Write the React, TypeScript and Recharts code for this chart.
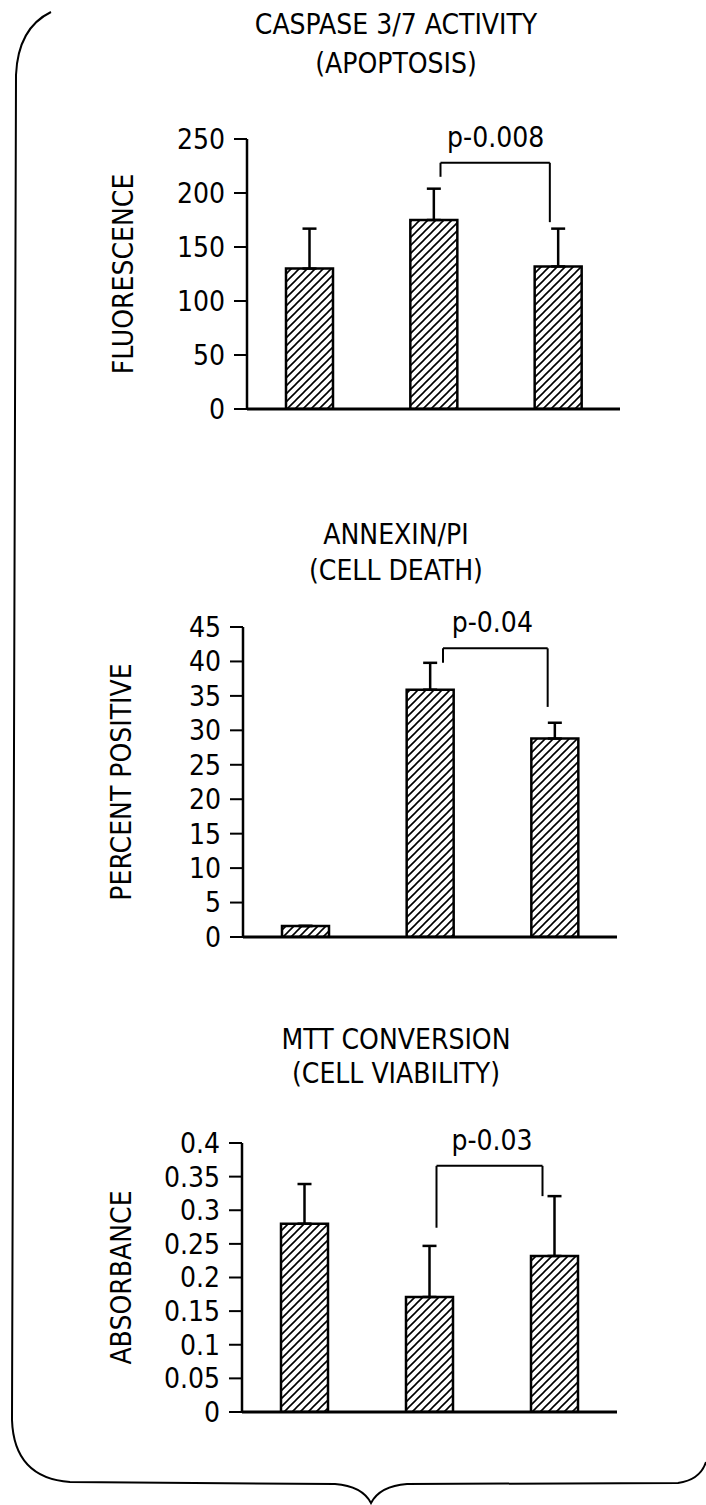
import { BarChart, Bar, XAxis, YAxis, ErrorBar, ReferenceLine } from "recharts";

const FONT = "'Liberation Sans Narrow', 'DejaVu Sans Condensed', 'Liberation Sans', sans-serif";

const groups = ["Group 1", "Group 2", "Group 3"];

// caspase 3/7 activity (fluorescence)
const caspaseValues = [130, 175, 132];
const caspaseErrors = [37, 29, 35];
const caspaseTicks = [0, 50, 100, 150, 200, 250];

// annexin/PI (percent positive)
const annexinValues = [1.6, 35.9, 28.8];
const annexinErrors = [0, 3.9, 2.3];
const annexinTicks = [0, 5, 10, 15, 20, 25, 30, 35, 40, 45];

// MTT conversion (absorbance)
const mttValues = [0.28, 0.171, 0.232];
const mttErrors = [0.059, 0.076, 0.089];
const mttTicks = [0, 0.05, 0.1, 0.15, 0.2, 0.25, 0.3, 0.35, 0.4];

// significance brackets between group 2 and group 3, y in data units
const caspaseBracket = { from: "Group 2", to: "Group 3", leftEnd: 215, top: 228, rightEnd: 173, p: "p-0.008" };
const annexinBracket = { from: "Group 2", to: "Group 3", leftEnd: 39.8, top: 41.9, rightEnd: 33.4, p: "p-0.04" };
const mttBracket = { from: "Group 2", to: "Group 3", leftEnd: 0.274, top: 0.366, rightEnd: 0.321, p: "p-0.03" };

type Bracket = typeof caspaseBracket;

// bracket leg line, nudged sideways off the bar centre
const leg = (dx1: number, dx2: number) => (props: any) =>
  (
    <line
      x1={props.x1 + dx1}
      y1={props.y1}
      x2={props.x2 + dx2}
      y2={props.y2}
      stroke="#000"
      strokeWidth={2}
    />
  );

interface PanelProps {
  id: string;
  title: string[];
  titleTop: number;
  titleLine: number;
  yLabel: string;
  values: number[];
  errors: number[];
  ticks: number[];
  bracket: Bracket;
  shiftL: number;
  shiftR: number;
  top: number;
  height: number;
  marginTop: number;
  marginBottom: number;
  axisX: number;
  plotRight: number;
}

const Panel = (p: PanelProps) => {
  const data = groups.map((name, i) => ({ name, value: p.values[i], err: [0, p.errors[i]] }));
  const max = p.ticks[p.ticks.length - 1];
  const b = p.bracket;
  return (
    <>
      <div
        style={{
          position: "absolute",
          left: 0,
          top: p.titleTop,
          width: 792,
          textAlign: "center",
          fontSize: 28,
          lineHeight: p.titleLine + "px",
          fontFamily: FONT,
          color: "#000",
        }}
      >
        {p.title.map((t) => (
          <div key={t}>{t}</div>
        ))}
      </div>
      <div style={{ position: "absolute", left: 0, top: p.top }}>
        <BarChart
          width={706}
          height={p.height}
          data={data}
          margin={{ top: p.marginTop, bottom: p.marginBottom, left: 0, right: 706 - p.plotRight }}
        >
          <defs>
            <pattern id={p.id} patternUnits="userSpaceOnUse" width={8} height={8}>
              <path d="M-1,1 L1,-1 M0,8 L8,0 M7,9 L9,7" stroke="#000" strokeWidth={1.6} />
            </pattern>
          </defs>
          <XAxis
            dataKey="name"
            height={1}
            tick={false}
            tickLine={false}
            axisLine={{ stroke: "#000", strokeWidth: 3 }}
          />
          <YAxis
            width={p.axisX}
            domain={[0, max]}
            ticks={p.ticks}
            allowDataOverflow
            interval={0}
            tickSize={13}
            tickMargin={9}
            axisLine={{ stroke: "#000", strokeWidth: 2.5 }}
            tickLine={{ stroke: "#000", strokeWidth: 2 }}
            tick={{ fill: "#000", fontSize: 28, fontFamily: FONT }}
            label={{
              value: p.yLabel,
              angle: -90,
              position: "center",
              fill: "#000",
              fontSize: 28,
              fontFamily: FONT,
            }}
          />
          <Bar
            dataKey="value"
            barSize={47}
            fill={`url(#${p.id})`}
            stroke="#000"
            strokeWidth={2.5}
            isAnimationActive={false}
          >
            <ErrorBar dataKey="err" width={7} stroke="#000" strokeWidth={2.5} />
          </Bar>
          <ReferenceLine
            ifOverflow="visible"
            segment={[
              { x: b.from, y: b.leftEnd },
              { x: b.from, y: b.top },
            ]}
            shape={leg(p.shiftL, p.shiftL)}
          />
          <ReferenceLine
            ifOverflow="visible"
            segment={[
              { x: b.from, y: b.top },
              { x: b.to, y: b.top },
            ]}
            shape={leg(p.shiftL, p.shiftR)}
            label={{ value: b.p, position: "top", offset: 16, fill: "#000", fontSize: 28, fontFamily: FONT }}
          />
          <ReferenceLine
            ifOverflow="visible"
            segment={[
              { x: b.to, y: b.top },
              { x: b.to, y: b.rightEnd },
            ]}
            shape={leg(p.shiftR, p.shiftR)}
          />
        </BarChart>
      </div>
    </>
  );
};

const Brace = () => (
  <svg
    width={706}
    height={1505}
    style={{ position: "absolute", left: 0, top: 0, pointerEvents: "none" }}
  >
    <path
      d="M51,12 Q18,28 16,75 L12,1420 Q14,1478 70,1482 L335,1484 Q362,1486 371,1503 Q380,1486 407,1484 L678,1483 Q700,1480 706,1462"
      fill="none"
      stroke="#000"
      strokeWidth={2}
    />
  </svg>
);

export default function App() {
  return (
    <div
      style={{
        position: "absolute",
        left: 0,
        top: 0,
        width: 706,
        height: 1505,
        background: "#fff",
        overflow: "hidden",
      }}
    >
      <Panel
        id="hatchCaspase"
        title={["CASPASE 3/7 ACTIVITY", "(APOPTOSIS)"]}
        titleTop={5}
        titleLine={39}
        yLabel="FLUORESCENCE"
        values={caspaseValues}
        errors={caspaseErrors}
        ticks={caspaseTicks}
        bracket={caspaseBracket}
        shiftL={7}
        shiftR={-8}
        top={0}
        height={440}
        marginTop={139}
        marginBottom={30}
        axisX={247}
        plotRight={620}
      />
      <Panel
        id="hatchAnnexin"
        title={["ANNEXIN/PI", "(CELL DEATH)"]}
        titleTop={517}
        titleLine={36}
        yLabel="PERCENT POSITIVE"
        values={annexinValues}
        errors={annexinErrors}
        ticks={annexinTicks}
        bracket={annexinBracket}
        shiftL={13}
        shiftR={-7}
        top={500}
        height={470}
        marginTop={127}
        marginBottom={32}
        axisX={243}
        plotRight={617}
      />
      <Panel
        id="hatchMtt"
        title={["MTT CONVERSION", "(CELL VIABILITY)"]}
        titleTop={1023}
        titleLine={34}
        yLabel="ABSORBANCE"
        values={mttValues}
        errors={mttErrors}
        ticks={mttTicks}
        bracket={mttBracket}
        shiftL={7}
        shiftR={-12}
        top={1000}
        height={450}
        marginTop={143}
        marginBottom={37}
        axisX={242}
        plotRight={617}
      />
      <Brace />
    </div>
  );
}
